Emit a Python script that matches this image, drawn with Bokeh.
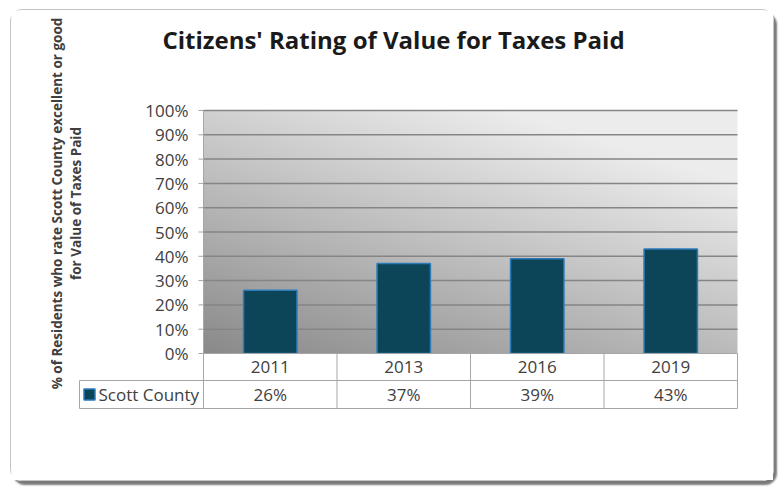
import numpy as np
from bokeh.plotting import figure
from bokeh.models import Range1d
from bokeh.core.properties import value
from bokeh.embed import file_html
from bokeh.resources import INLINE

# ---- data ----
title_text = "Citizens' Rating of Value for Taxes Paid"
y_label = "% of Residents who rate Scott County excellent or good\nfor Value of Taxes Paid"
years = ["2011", "2013", "2016", "2019"]
series_name = "Scott County"
values = [0.26, 0.37, 0.39, 0.43]
y_ticks = [0.0, 0.1, 0.2, 0.3, 0.4, 0.5, 0.6, 0.7, 0.8, 0.9, 1.0]
tick_labels = ["0%", "10%", "20%", "30%", "40%", "50%", "60%", "70%", "80%", "90%", "100%"]

# ---- layout constants (pixels) ----
W, H = 764, 472
PX_X = 133.5            # pixels per category
PX_Y = 243.0            # pixels per 100 %
X0_PX = 192             # canvas x of the value axis
Y0_PX = 343             # canvas y (from top) of 0 %
n = len(years)
legend_w = 124 / PX_X
row1 = -27 / PX_Y
row2 = -55 / PX_Y
FONT = "Open Sans"
TXT = "#404040"
GRID = "#858585"
TABLE = "#a6a6a6"
BAR_FILL = "#0d4558"
BAR_LINE = "#2b7bb9"

p = figure(width=W, height=H, output_backend="svg", toolbar_location=None,
           x_range=Range1d(-X0_PX / PX_X, (W - X0_PX) / PX_X),
           y_range=Range1d(-(H - Y0_PX) / PX_Y, Y0_PX / PX_Y),
           x_axis_location=None, y_axis_location=None, min_border=0)
p.title.visible = False
p.outline_line_color = None
p.background_fill_color = "white"
p.border_fill_color = "white"
p.xgrid.visible = False
p.ygrid.visible = False
p.styles = {"margin": "9px 0 0 10px", "border": "1px solid #c4c4c4", "border-radius": "12px",
            "box-shadow": "3px 4px 2px #7a7a7a"}

# gradient plot area (dark lower-left to light upper-right)
GH, GW = 120, 240
u = np.linspace(0, 1, GW)[None, :]
v = np.linspace(0, 1, GH)[:, None]
t = np.clip(0.5 * u + 0.72 * v, 0, 1)
c = (138 + (236 - 138) * t).astype(np.uint32)
img = (255 << 24) | (c << 16) | (c << 8) | c
p.image_rgba(image=[img.astype(np.uint32)], x=0, y=0, dw=n, dh=1)

# gridlines
gy = y_ticks[1:]
p.segment(x0=[0] * len(gy), x1=[n] * len(gy), y0=gy, y1=gy, line_color=GRID, line_width=1.5)

# bars
xs = [i + 0.5 for i in range(n)]
p.vbar(x=xs, top=values, bottom=0, width=0.40, fill_color=BAR_FILL,
       line_color=BAR_LINE, line_width=1.5)

# value axis: line, ticks, labels
p.segment(x0=[0], x1=[0], y0=[0], y1=[1], line_color=TABLE, line_width=1)
p.segment(x0=[-5 / PX_X] * len(y_ticks), x1=[0] * len(y_ticks), y0=y_ticks, y1=y_ticks,
          line_color=TABLE, line_width=1)
p.text(x=[-15 / PX_X] * len(y_ticks), y=y_ticks, text=tick_labels, text_align="right",
       text_baseline="middle", text_font=value(FONT), text_font_size="17px", text_color=TXT)

# data table
p.quad(left=[0], right=[n], bottom=[row1], top=[0], fill_color="white", line_color=None)
p.quad(left=[-legend_w], right=[n], bottom=[row2], top=[row1], fill_color="white", line_color=None)
hx0 = [0, -legend_w, -legend_w]
hx1 = [n, n, n]
hy = [0, row1, row2]
p.segment(x0=hx0, x1=hx1, y0=hy, y1=hy, line_color=TABLE, line_width=1)
vx = [-legend_w] + list(range(n + 1))
vy0 = [row2] * len(vx)
vy1 = [row1] + [0] * (n + 1)
p.segment(x0=vx, x1=vx, y0=vy0, y1=vy1, line_color=TABLE, line_width=1)

p.text(x=xs, y=[row1 / 2] * n, text=years, text_align="center", text_baseline="middle",
       text_font=value(FONT), text_font_size="17px", text_color=TXT)
p.text(x=xs, y=[(row1 + row2) / 2] * n, text=[f"{round(v_ * 100)}%" for v_ in values],
       text_align="center", text_baseline="middle",
       text_font=value(FONT), text_font_size="17px", text_color=TXT)
p.scatter(x=[-legend_w + 10 / PX_X], y=[(row1 + row2) / 2], marker="square", size=11,
          fill_color=BAR_FILL, line_color=BAR_LINE, line_width=1.5)
p.text(x=[-legend_w + 19 / PX_X], y=[(row1 + row2) / 2], text=[series_name], text_align="left",
       text_baseline="middle", text_font=value(FONT), text_font_size="17px", text_color=TXT)

# chart title and value-axis title
p.text(x=[(382 - X0_PX) / PX_X], y=[(Y0_PX - 29) / PX_Y], text=[title_text], text_align="center",
       text_baseline="middle", text_font=value(FONT), text_font_size="24px",
       text_font_style="bold", text_color="#1a1a1a")
p.text(x=[(55 - X0_PX) / PX_X], y=[(Y0_PX - 193) / PX_Y], text=[y_label], angle=np.pi / 2,
       text_align="center", text_baseline="middle", text_font=value(FONT),
       text_font_size="13.5px", text_font_style="bold", text_color=TXT, text_line_height=1.05)

open("out.html", "w").write(file_html(p, INLINE))
